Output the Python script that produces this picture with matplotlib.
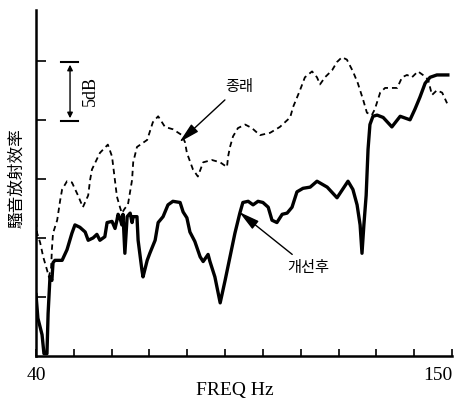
import matplotlib
matplotlib.use("Agg")
import matplotlib.pyplot as plt

# frequency (Hz) / radiation efficiency (dB, relative)
freq_new = [40.0, 40.5, 41.6, 42.1, 42.9, 43.2, 43.7, 44.2, 44.5, 45.0, 46.9, 48.2, 49.5, 50.3,
            51.6, 53.0, 53.8, 55.1, 56.1, 56.9, 58.2, 58.8, 60.1, 60.9, 61.4, 61.7, 62.2, 62.7,
            63.0, 63.5, 64.1, 64.9, 65.4, 65.7, 66.7, 67.0, 68.0, 68.3, 69.4, 70.1, 71.5, 72.3,
            73.6, 74.9, 76.2, 78.1, 78.9, 79.9, 80.7, 82.0, 83.4, 84.2, 85.5, 86.0, 87.3, 88.7,
            90.0, 91.3, 92.6, 93.9, 94.7, 96.1, 97.4, 98.7, 100.0, 101.4, 102.4, 103.7, 105.1,
            106.4, 107.7, 109.0, 110.6, 112.5, 114.3, 117.0, 119.6, 122.5, 123.8, 124.9, 125.7,
            126.2, 126.7, 127.3, 127.8, 128.3, 129.1, 130.2, 131.8, 134.1, 136.3, 138.9, 140.2,
            141.5, 142.9, 144.2, 146.0, 148.9]
db_new = [5.2, 3.2, 1.8, 0.2, 0.2, 3.6, 6.7, 6.4, 7.9, 8.1, 8.1, 9.0, 10.4, 11.1,
          10.9, 10.5, 9.8, 10.0, 10.3, 9.8, 10.1, 11.3, 11.4, 10.8, 11.5, 12.0, 11.7, 11.1,
          12.0, 8.7, 11.8, 12.1, 11.3, 11.8, 11.8, 9.8, 7.3, 6.7, 8.1, 8.7, 9.8, 11.3,
          11.8, 12.8, 13.1, 13.0, 12.2, 11.7, 10.5, 9.7, 8.4, 8.0, 8.6, 8.0, 6.7, 4.5,
          6.4, 8.4, 10.4, 12.1, 13.0, 13.1, 12.8, 13.1, 13.0, 12.6, 11.5, 11.3, 12.0,
          12.1, 12.6, 13.9, 14.2, 14.3, 14.8, 14.3, 13.4, 14.8, 14.1, 12.8, 11.1,
          8.7, 11.1, 13.6, 17.5, 19.6, 20.3, 20.4, 20.2, 19.4, 20.3, 20.0, 20.9,
          21.9, 23.1, 23.6, 23.8, 23.8]

freq_old = [40.0, 40.3, 41.1, 41.9, 42.9, 43.4, 44.0, 44.2, 44.5, 45.6, 46.4, 46.9, 48.2, 49.5,
            51.1, 52.4, 53.8, 54.3, 54.8, 56.9, 59.0, 60.1, 61.4, 62.2, 62.7, 63.5, 64.3, 65.4,
            65.7, 66.7, 69.4, 70.9, 72.3, 74.1, 76.2, 78.6, 79.4, 79.9, 81.5, 82.8, 84.2, 86.5,
            88.7, 90.5, 90.8, 91.3, 92.1, 93.4, 95.3, 97.1, 99.2, 101.9, 104.5, 107.2, 108.0,
            109.8, 111.1, 113.0, 114.3, 115.1, 116.4, 118.3, 119.6, 120.9, 122.2, 123.8, 125.1,
            126.5, 127.5, 128.8, 129.6, 131.0, 132.3, 135.5, 136.8, 138.1, 139.4, 141.0, 142.3,
            143.7, 144.7, 146.0, 147.4, 148.7]
db_old = [11.4, 10.4, 9.6, 8.4, 7.3, 6.7, 7.5, 9.0, 10.4, 11.5, 13.2, 14.1, 14.8, 14.7,
          13.6, 12.6, 13.6, 14.9, 15.8, 17.2, 17.9, 16.9, 13.5, 12.6, 12.1, 12.5, 12.8, 14.9,
          16.4, 17.7, 18.3, 19.8, 20.3, 19.4, 19.2, 18.7, 18.1, 17.2, 15.8, 15.2, 16.4, 16.6,
          16.4, 16.0, 16.9, 17.7, 18.6, 19.3, 19.6, 19.3, 18.7, 18.9, 19.4, 20.2, 21.1,
          22.5, 23.6, 24.1, 23.6, 23.0, 23.6, 24.2, 24.9, 25.3, 25.1, 24.1, 23.1,
          21.7, 20.6, 20.4, 20.9, 22.3, 22.7, 22.7, 23.6, 23.8, 23.6, 24.1, 23.8,
          23.4, 22.1, 22.5, 22.3, 21.4]

x_ticks = [40, 50, 60, 70, 80, 90, 100, 110, 120, 130, 140, 150]
y_ticks = [5, 10, 15, 20, 25]

serif = "Liberation Serif"
kr = ["Noto Sans CJK KR", "DejaVu Sans"]

fig = plt.figure(figsize=(4.57, 4.05), dpi=100)
ax = fig.add_axes([36 / 457, 49 / 405, 416 / 457, 346 / 405])

ax.plot(freq_old, db_old, color="black", lw=1.3, ls=(0, (3, 2.2)))
ax.plot(freq_new, db_new, color="black", lw=2.4, solid_joinstyle="round")

ax.set_xlim(40, 150)
ax.set_ylim(0, 29.3)
for s in ("top", "right"):
    ax.spines[s].set_visible(False)
for s in ("left", "bottom"):
    ax.spines[s].set_linewidth(1.8)
ax.set_xticks(x_ticks)
ax.set_xticklabels(["40"] + [""] * 10 + ["150"], fontsize=14, family=serif)
ax.get_xticklabels()[-1].set_ha("right")
ax.get_xticklabels()[0].set_ha("center")
ax.set_yticks(y_ticks)
ax.set_yticklabels([])
ax.tick_params(direction="in", length=5, width=1.2, pad=8)
ax.tick_params(axis="y", length=7)

fig.text(235 / 457, 1 - 391 / 405, "FREQ Hz", ha="center", va="center", fontsize=14, family=serif)
fig.text(17 / 457, 1 - 178 / 405, "騷音放射效率", rotation=90, ha="center", va="center",
         fontsize=12, family=["Noto Sans CJK TC", "DejaVu Sans"])

# 5dB scale bar
ax.annotate("", xy=(49.0, 24.9), xytext=(49.0, 19.9),
            arrowprops=dict(arrowstyle="<|-|>", lw=1.0, color="black", mutation_scale=8))
ax.plot([46.7, 51.2], [24.9, 24.9], color="black", lw=1.5)
ax.plot([46.7, 51.2], [19.9, 19.9], color="black", lw=1.5)
ax.text(54.3, 22.4, "5dB", rotation=90, ha="center", va="center", fontsize=13, family=serif)

# curve labels
head = "-|>,head_length=0.9,head_width=0.22"
ax.annotate("종래", xy=(77.9, 18.1), xytext=(90.0, 22.8), fontsize=11, family=kr,
            ha="left", va="center",
            arrowprops=dict(arrowstyle=head, lw=1.0, color="black", mutation_scale=14,
                            shrinkA=2, shrinkB=0))
ax.annotate("개선후", xy=(93.7, 12.2), xytext=(106.5, 7.5), fontsize=11, family=kr,
            ha="left", va="center",
            arrowprops=dict(arrowstyle=head, lw=1.0, color="black", mutation_scale=14,
                            shrinkA=2, shrinkB=0))

fig.savefig("out.png", dpi=100)
